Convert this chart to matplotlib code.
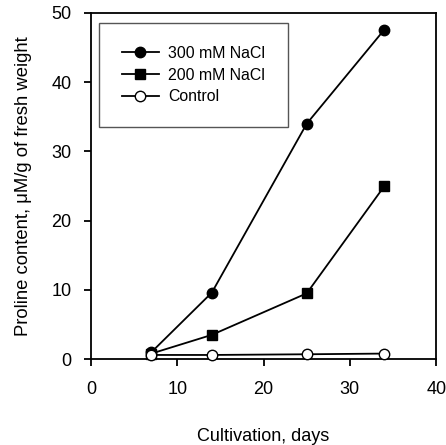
import matplotlib
matplotlib.use("Agg")
import matplotlib.pyplot as plt

plt.rcParams['font.family'] = ['Liberation Sans', 'DejaVu Sans']

days = [7, 14, 25, 34]
nacl300 = [1.0, 9.6, 34.0, 47.6]
nacl200 = [0.8, 3.5, 9.5, 25.0]
control = [0.6, 0.6, 0.7, 0.8]
labels = ["300 mM NaCl", "200 mM NaCl", "Control"]
xticks = [0, 10, 20, 30, 40]
yticks = [0, 10, 20, 30, 40, 50]

fig = plt.figure(figsize=(4.46, 4.45), dpi=100)
ax = fig.add_axes([0.204, 0.193, 0.774, 0.778])

ax.plot(days, nacl300, '-o', color='black', lw=1.3, ms=7.5, mfc='black', mec='black', label=labels[0], clip_on=False, zorder=3)
ax.plot(days, nacl200, '-s', color='black', lw=1.3, ms=7, mfc='black', mec='black', label=labels[1], clip_on=False, zorder=3)
ax.plot(days, control, '-o', color='black', lw=1.3, ms=7.5, mfc='white', mec='black', label=labels[2], clip_on=False, zorder=4)

ax.set_xlim(0, 40)
ax.set_ylim(0, 50)
ax.set_xticks(xticks)
ax.set_yticks(yticks)
ax.tick_params(direction='out', length=5, width=1.3, labelsize=13, colors='black')
ax.tick_params(axis='x', pad=11)
ax.tick_params(axis='y', pad=9)
for s in ax.spines.values():
    s.set_linewidth(1.3)

ax.set_xlabel("Cultivation, days", fontsize=13, labelpad=21)
ax.set_ylabel("Proline content, \u03bcM/g of fresh weight", fontsize=13.3, labelpad=14)

leg = ax.legend(loc='upper left', bbox_to_anchor=(0.023, 0.971), fontsize=11.4,
                fancybox=False, edgecolor='#555555', framealpha=1,
                handlelength=2.35, borderpad=1.45, labelspacing=0.42,
                handletextpad=0.55, borderaxespad=0)
leg.get_frame().set_linewidth(1.0)

fig.savefig("out.png", dpi=100)
